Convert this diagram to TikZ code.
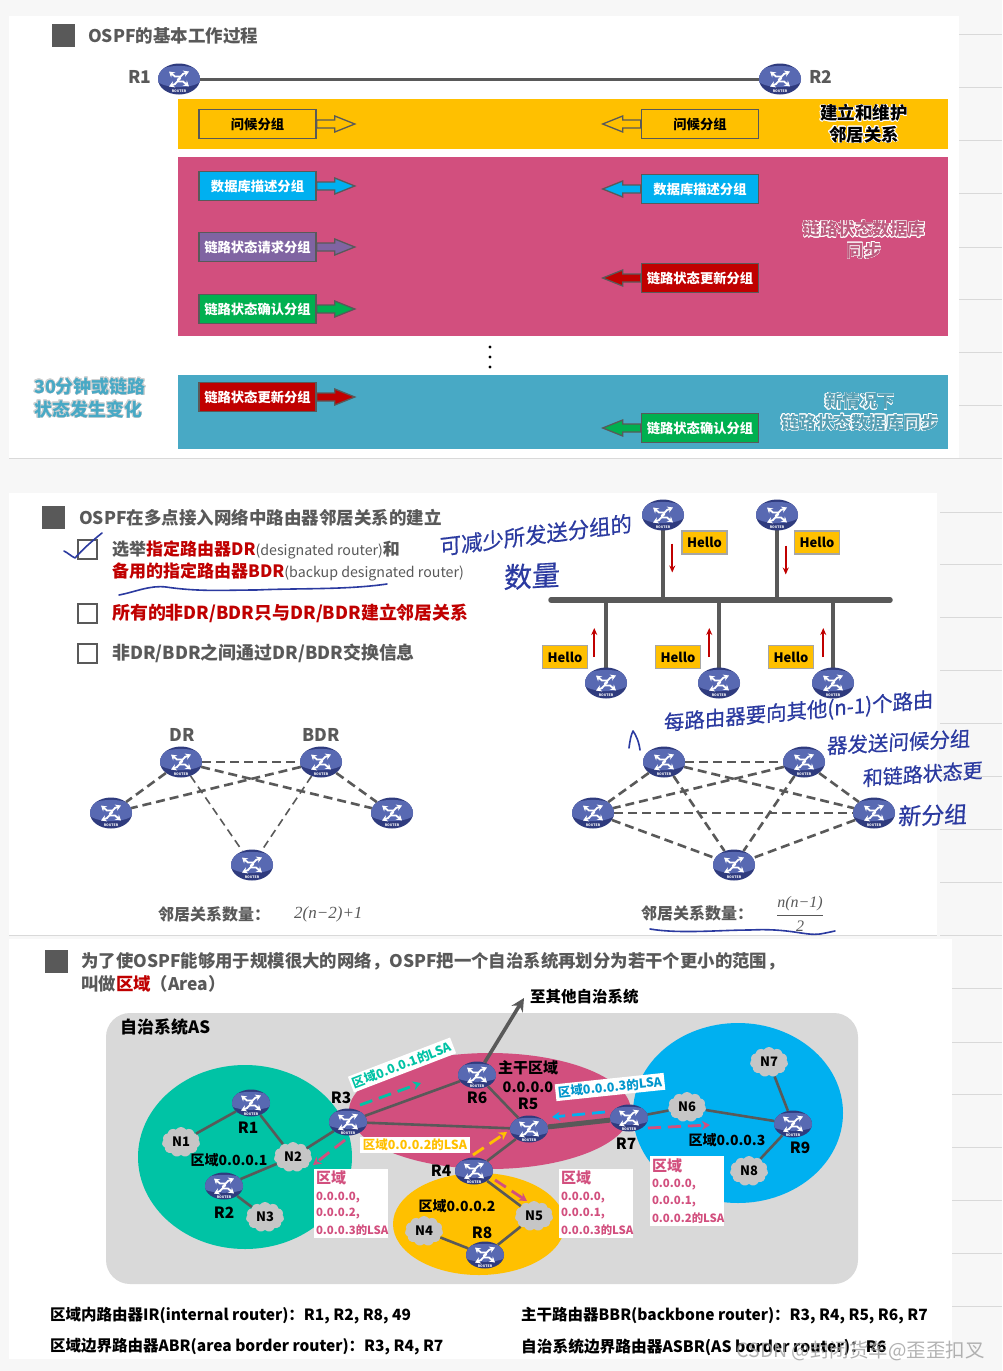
\documentclass[tikz,border=0pt]{standalone}
\usepackage{fontspec}
\setmainfont{Noto Sans CJK SC}
\newfontfamily\hwf[FakeBold=0.6,FakeSlant=0.1]{Noto Sans CJK SC}
\newfontfamily\serf{Liberation Serif}
\usepackage[copies]{contour}
\contournumber{16}
\usetikzlibrary{shapes.geometric,shapes.symbols,arrows.meta}
\definecolor{dg}{HTML}{595959}
\definecolor{cred}{HTML}{C00000}
\definecolor{pinkb}{HTML}{D24F7E}
\definecolor{yel}{HTML}{FFC000}
\definecolor{blueb}{HTML}{48A9C5}
\definecolor{sky}{HTML}{00B0F0}
\definecolor{purp}{HTML}{8064A2}
\definecolor{grn}{HTML}{00B050}
\definecolor{teal2}{HTML}{00C3A5}
\definecolor{hw}{HTML}{2B3AA0}
\definecolor{rdark}{HTML}{2F3B7E}
\definecolor{rlight}{HTML}{5869B2}
\newcommand\fz[1]{\fontsize{#1}{#1}\selectfont}
\newcommand\routerart[3]{%
  \fill[rlight] ([yshift=#3]path picture bounding box.center) ellipse [x radius=25,y radius=12.5*#2];
  \begin{scope}[shift={([yshift=#3]path picture bounding box.center)},xscale=#1,yscale=#2]
    \draw[rarr] (1,-2.5) -- (-4,-2.5) -- (-10,-7.5);
    \draw[rarr] (-1.5,1) -- (4,-5) -- (10,-7.5);
    \draw[rarr] (1.5,-1) -- (-4,5) -- (-10,7.5);
    \draw[rarr] (-1,2.5) -- (4,2.5) -- (10,7.5);
  \end{scope}}
\tikzset{
  rarr/.style={white,line width=1.8,line join=miter,-{Stealth[length=5.5,width=6.5]}},
  routerA/.style={ellipse,inner sep=0,minimum width=42,minimum height=31,fill=rdark,
    path picture={\routerart{1.1}{0.85}{2.5}
      \node[rtag] (rt) at ([yshift=3]path picture bounding box.south) {ROUTER};}},
  routerB/.style={ellipse,inner sep=0,minimum width=38,minimum height=27,fill=rdark,
    path picture={\routerart{0.95}{0.72}{2.2}
      \node[rtag] (rt) at ([yshift=2.4]path picture bounding box.south) {ROUTER};}},
  rtag/.style={text=white,inner sep=0,font=\bfseries\fz{3.4}},
  wire/.style={dg,line width=2.6},
  dash1/.style={dg,line width=2.6,dash pattern=on 9pt off 5pt},
  dash2/.style={dg,line width=1.6,dash pattern=on 8pt off 5pt},
  netcloud/.style={cloud,cloud puffs=11,cloud puff arc=110,aspect=1.3,fill=gray!45!white,draw=none,inner sep=0,
    minimum width=38,minimum height=30,font=\bfseries\fz{13}},
  pkbox/.style={draw=dg,line width=1.6,minimum width=117,minimum height=29,inner sep=0,font=\bfseries\fz{13.3}},
  pkarrow/.style={draw=dg,line width=1.3,line join=miter},
  lbl/.style={inner sep=0,font=\bfseries\fz{17}},
  glbl/.style={inner sep=0,font=\bfseries\fz{17.5},text=dg},
  rl/.style={inner sep=0,font=\bfseries\fz{15.5},text=black},
  hello/.style={draw=gray!70!white,line width=1.5,fill=yel,minimum width=45,minimum height=23,inner sep=0,font=\bfseries\fz{13}},
  redarr/.style={cred,line width=1.7,-{Stealth[length=7,width=6]}},
  chk/.style={draw=dg,line width=2,fill=white,minimum width=19,minimum height=19,inner sep=0},
  hand/.style={inner sep=0,text=hw,font=\hwf\fz{#1}},
  handline/.style={hw,line width=1.6,line cap=round,line join=round},
  lsaarr/.style={line width=2.8,dash pattern=on 13pt off 7pt,-{Stealth[length=8,width=9]}},
  lsabox/.style={fill=white,inner sep=2.5,font=\bfseries\fz{12.5}},
  listbox/.style={fill=white,inner sep=2,text=pinkb,align=left,font=\bfseries\fz{11.4},text width=70},
}
\newcommand\pkt[8]{%
  \node[pkbox,fill=#4,text=#5] (#1) at (#2,#3) {#6};
  \draw[pkarrow,fill=#4] (#1.#7) ++(0,-4) -- ++({#8*18},0) -- ++(0,-4) -- ++({#8*20},8) -- ++({-#8*20},8) -- ++(0,-4) -- ++({-#8*18},0) -- cycle;}
\begin{document}
\begin{tikzpicture}[x=1pt,y=-1pt]
\useasboundingbox (0,0) rectangle (1002,1371);
\fill[gray!6!white] (0,0) rectangle (1002,1371);
% ruled margin
\foreach \y in {34,87,140,193,247,299,352,405,458,512,564,617,670,723,776,829,882,935,988,1042,1094,1147,1200,1253,1306}
  \draw[gray!30!white,line width=1] (940,\y) -- (1002,\y);
% panels
\fill[white] (9,16) rectangle (959,458);
\fill[white] (9,493) rectangle (937,935);
\fill[white] (9,939) rectangle (952,1359);
\draw[gray!30!white,line width=1] (9,458) -- (959,458);
\draw[gray!30!white,line width=1] (9,935) -- (937,935);

%% ---------- panel 1
\fill[dg] (52,24) rectangle (75,47);
\node[glbl,anchor=west] (t1) at (88,36) {OSPF的基本工作过程};
\node[routerA] (r1) at (179,79) {};
\node[routerA] (r2) at (780,79) {};
\node[glbl] (r1l) at (140,77) {R1};
\node[glbl] (r2l) at (821,77) {R2};
\draw[dg,line width=3] (r1) -- (r2);
\fill[yel] (178,99) rectangle (948,149);
\fill[pinkb] (178,157) rectangle (948,336);
\fill[blueb] (178,375) rectangle (948,449);
\pkt{a1}{257.5}{124}{yel}{black}{问候分组}{east}{1}
\pkt{a2}{700}{124}{yel}{black}{问候分组}{west}{-1}
\pkt{b1}{257.5}{186}{sky}{white}{数据库描述分组}{east}{1}
\pkt{b2}{700}{189}{sky}{white}{数据库描述分组}{west}{-1}
\pkt{c1}{257.5}{247}{purp}{white}{链路状态请求分组}{east}{1}
\pkt{c2}{700}{278}{cred}{white}{链路状态更新分组}{west}{-1}
\pkt{d1}{257.5}{309}{grn}{white}{链路状态确认分组}{east}{1}
\pkt{e1}{257.5}{397}{cred}{white}{链路状态更新分组}{east}{1}
\pkt{e2}{700}{428}{grn}{white}{链路状态确认分组}{west}{-1}
\contourlength{0.6pt}
\node[inner sep=0,align=center,font=\bfseries\fz{17.5},text=black] (s1) at (864,124) {\contour{white}{建立和维护}\\[4pt]\contour{white}{邻居关系}};
\contourlength{0.45pt}
\node[inner sep=0,align=center,font=\bfseries\fz{17.5},text=pinkb!75!gray] (s2) at (864,240) {\contour{white}{链路状态数据库}\\[4pt]\contour{white}{同步}};
\node[inner sep=0,align=center,font=\bfseries\fz{17.5},text=blueb!75!gray] (s3) at (860,412) {\contour{white}{新情况下}\\[4pt]\contour{white}{链路状态数据库同步}};
\node[inner sep=0,align=left,font=\bfseries\fz{18},text=blueb] (s4) at (90,398) {\contour{gray!35!white}{30分钟或链路}\\[4pt]\contour{gray!35!white}{状态发生变化}};
\foreach \y/\n in {347/p,357/q,367/r}
  \node[circle,fill=black,inner sep=0,minimum size=3.4] (dot\n) at (490,\y) {};

%% ---------- panel 2
\fill[dg] (42,506) rectangle (65,529);
\node[glbl,anchor=west] (t2) at (79,518) {OSPF在多点接入网络中路由器邻居关系的建立};
\node[chk] (c1b) at (87,549) {};
\node[chk] (c2b) at (87,613) {};
\node[chk] (c3b) at (87,653) {};
\node[inner sep=0,anchor=west,font=\bfseries\fz{17},text=dg] (l1) at (112,550) {选举\textcolor{cred}{指定路由器DR}{\mdseries\fz{14.2}(designated router)}和};
\node[inner sep=0,anchor=west,font=\bfseries\fz{17},text=dg] (l2) at (112,572) {\textcolor{cred}{备用的指定路由器BDR}{\mdseries\fz{14.2}(backup designated router)}};
\node[inner sep=0,anchor=west,font=\bfseries\fz{17.9},text=cred] (l3) at (112,613) {所有的非DR/BDR只与DR/BDR建立邻居关系};
\node[inner sep=0,anchor=west,font=\bfseries\fz{17.9},text=dg] (l4) at (112,653) {非DR/BDR之间通过DR/BDR交换信息};
% bus
\coordinate (busL) at (551,600);
\coordinate (busR) at (890,600);
\draw[dg,line width=3.6] (663,515) -- (663,600);
\draw[dg,line width=3.6] (777,515) -- (777,600);
\draw[dg,line width=3.6] (606,683) -- (606,600);
\draw[dg,line width=3.6] (719,683) -- (719,600);
\draw[dg,line width=3.6] (833,683) -- (833,600);
\node[routerA] (u1) at (663,515) {};
\node[routerA] (u2) at (777,515) {};
\node[routerA] (d1x) at (606,683) {};
\node[routerA] (d2x) at (719,683) {};
\node[routerA] (d3x) at (833,683) {};
\draw[dg,line width=5.5,line cap=round] (busL) -- (busR);
\node[hello] (h1) at (704.5,542.5) {Hello};
\node[hello] (h2) at (817,542.5) {Hello};
\node[hello] (h3) at (565,657) {Hello};
\node[hello] (h4) at (678,657) {Hello};
\node[hello] (h5) at (791,657) {Hello};
\draw[redarr] (h1.west) ++(-9,1) -- ++(0,29);
\draw[redarr] (h2.west) ++(-8,3) -- ++(0,29);
\draw[redarr] (h3.east) ++(6,0) -- ++(0,-29);
\draw[redarr] (h4.east) ++(8,0) -- ++(0,-29);
\draw[redarr] (h5.east) ++(9,0) -- ++(0,-29);
% left graph
\node[routerA] (dr) at (181,762) {};
\node[routerA] (bdr) at (321,762) {};
\node[routerA] (gl) at (111,813) {};
\node[routerA] (gr) at (392,813) {};
\node[routerA] (gb) at (252,865) {};
\node[glbl] (drl) at (182,735) {DR};
\node[glbl] (bdrl) at (321,735) {BDR};
\draw[dash1] (dr) -- (bdr);
\draw[dash1] (dr) -- (gl);
\draw[dash1] (dr) -- (gr);
\draw[dash1] (bdr) -- (gl);
\draw[dash1] (bdr) -- (gr);
\draw[dash2] (dr) -- (gb);
\draw[dash2] (bdr) -- (gb);
\node[inner sep=0,anchor=west,font=\bfseries\fz{16},text=dg] (nb1) at (158,914) {邻居关系数量：};
\node[inner sep=0,anchor=west,text=dg,font=\serf\itshape\fz{17}] (f1) at (294,914) {2(n−2)+1};
% right graph
\node[routerA] (ga) at (664,762) {};
\node[routerA] (gc) at (804,762) {};
\node[routerA] (gd) at (593,813) {};
\node[routerA] (ge) at (874,813) {};
\node[routerA] (gf) at (734,865) {};
\foreach \a/\b in {ga/gc,ga/gd,ga/ge,ga/gf,gc/gd,gc/ge,gc/gf,gd/ge,gd/gf,ge/gf}
  \draw[dash1] (\a) -- (\b);
\node[inner sep=0,anchor=west,font=\bfseries\fz{16},text=dg] (nb2) at (641,913) {邻居关系数量：};
\node[inner sep=0,text=dg,font=\serf\itshape\fz{16}] (f2) at (800,914) {$\displaystyle\frac{\hbox{n(n−1)}}{\hbox{2}}$};
% handwriting
\draw[handline] (64,551) .. controls (68,553) and (71,556) .. (75,558) .. controls (82,550) and (92,541) .. (102,533);
\draw[handline] (119,595) .. controls (135,592) and (150,585) .. (166,587) .. controls (200,592) and (225,590) .. (256,590) .. controls (300,588) and (345,590) .. (387,584);
\draw[handline] (650,929) .. controls (680,934) and (720,930) .. (750,930) .. controls (790,928) and (805,936) .. (820,934) .. controls (826,933) and (830,932) .. (835,931);
\draw[handline] (629,748) .. controls (630,740) and (631,735) .. (633,731) .. controls (636,735) and (639,742) .. (640,750);
\node[hand=21.5,rotate=7] (hw1) at (535,535) {可减少所发送分组的};
\node[hand=28,rotate=3] (hw2) at (531,576) {数量};
\node[hand=20.5,rotate=5] (hw3) at (798,712) {每路由器要向其他(n-1)个路由};
\node[hand=20.5,rotate=3] (hw4) at (898,742) {器发送问候分组};
\node[hand=20,rotate=4] (hw5) at (922,774) {和链路状态更};
\node[hand=23,rotate=2] (hw6) at (932,815) {新分组};

%% ---------- panel 3
\fill[dg] (45,950) rectangle (68,973);
\node[inner sep=0,anchor=west,font=\bfseries\fz{17.4},text=dg] (t3) at (81,961) {为了使OSPF能够用于规模很大的网络，OSPF把一个自治系统再划分为若干个更小的范围，};
\node[inner sep=0,anchor=west,font=\bfseries\fz{17.4},text=dg] (t3b) at (81,984) {叫做\textcolor{cred}{区域}（Area）};
\fill[gray!30!white,rounded corners=24] (106,1013) rectangle (858,1284);
\node[lbl,anchor=west] (as) at (120,1027) {自治系统AS};
\node[inner sep=0,anchor=west,font=\bfseries\fz{15.5}] (oth) at (530,997) {至其他自治系统};
\fill[teal2] (245,1157) ellipse [x radius=107,y radius=92];
\fill[sky] (738,1113) ellipse [x radius=105,y radius=90];
\fill[pinkb] (490,1111) ellipse [x radius=141,y radius=58];
\fill[yel] (479,1224) ellipse [x radius=86,y radius=51];
\node[routerB] (R1) at (251,1103) {};
\node[routerB] (R2) at (224,1186) {};
\node[routerB] (R3) at (348,1122) {};
\node[routerB] (R6) at (477,1075) {};
\node[routerB] (R5) at (529,1129) {};
\node[routerB] (R4) at (474,1171) {};
\node[routerB] (R8) at (485,1255) {};
\node[routerB] (R7) at (629,1118) {};
\node[routerB] (R9) at (793,1124) {};
\node[netcloud] (N1) at (181,1142) {N1};
\node[netcloud] (N2) at (293,1157) {N2};
\node[netcloud] (N3) at (265,1217) {N3};
\node[netcloud] (N4) at (424,1231) {N4};
\node[netcloud] (N5) at (534,1216) {N5};
\node[netcloud] (N6) at (687,1107) {N6};
\node[netcloud] (N7) at (769,1062) {N7};
\node[netcloud] (N8) at (749,1171) {N8};
\foreach \a/\b in {R1/N1,R1/N2,N2/R3,N2/R2,R2/N3,R3/R6,R3/R5,R6/R5,R5/R4,R4/N5,N5/R8,R8/N4,R7/N6,N6/R9,R9/N7,R9/N8}
  \draw[wire] (\a) -- (\b);
\draw[dg,line width=5] (R5) -- (R7);
\coordinate (ext) at (524,998);
\draw[dg,line width=3.6,-{Stealth[length=13,width=13]}] (R6) -- (ext);
\node[rl] (lR1) at (248,1128) {R1};
\node[rl] (lR2) at (224,1213) {R2};
\node[rl] (lR3) at (341,1098) {R3};
\node[rl] (lR6) at (477,1098) {R6};
\node[rl] (lR5) at (528,1104) {R5};
\node[rl] (lR4) at (441,1171) {R4};
\node[rl] (lR8) at (482,1233) {R8};
\node[rl] (lR7) at (626,1144) {R7};
\node[rl] (lR9) at (800,1148) {R9};
\node[rl,font=\bfseries\fz{15}] (bb1) at (528,1068) {主干区域};
\node[rl,font=\bfseries\fz{14.5}] (bb2) at (528,1087) {0.0.0.0};
\node[rl,font=\bfseries\fz{14}] (a1l) at (229,1160) {区域0.0.0.1};
\node[rl,font=\bfseries\fz{14}] (a2l) at (457,1206) {区域0.0.0.2};
\node[rl,font=\bfseries\fz{14}] (a3l) at (727,1140) {区域0.0.0.3};
% LSA labels
\node[lsabox,text=teal2,rotate=21] (L1) at (402,1065) {区域0.0.0.1的LSA};
\node[lsabox,text=yel] (L2) at (415,1145) {区域0.0.0.2的LSA};
\node[lsabox,text=sky!85!black,rotate=6] (L3) at (610,1087) {区域0.0.0.3的LSA};
\coordinate (ta1) at (360,1105); \coordinate (ta2) at (421,1083);
\draw[lsaarr,teal2] (ta1) -- (ta2);
\coordinate (pa1) at (345,1140); \coordinate (pa2) at (313,1165);
\draw[lsaarr,pinkb] (pa1) -- (pa2);
\coordinate (ya1) at (473,1155); \coordinate (ya2) at (507,1132);
\draw[lsaarr,yel] (ya1) -- (ya2);
\coordinate (pb1) at (495,1180); \coordinate (pb2) at (527,1201);
\draw[lsaarr,pinkb] (pb1) -- (pb2);
\coordinate (ba1) at (605,1112); \coordinate (ba2) at (552,1117);
\draw[lsaarr,sky] (ba1) -- (ba2);
\coordinate (pc1) at (648,1128); \coordinate (pc2) at (710,1125);
\draw[lsaarr,pinkb] (pc1) -- (pc2);
\node[listbox] (B1) at (351,1203.5) {{\fz{15}区域}\\[5pt]0.0.0.0,\\[5pt]0.0.0.2,\\[5pt]0.0.0.3的LSA};
\node[listbox] (B2) at (596,1203.5) {{\fz{15}区域}\\[5pt]0.0.0.0,\\[5pt]0.0.0.1,\\[5pt]0.0.0.3的LSA};
\node[listbox] (B3) at (687,1191) {{\fz{15}区域}\\[5pt]0.0.0.0,\\[5pt]0.0.0.1,\\[5pt]0.0.0.2的LSA};
\node[inner sep=0,anchor=west,font=\bfseries\fz{15.5}] (x1) at (50,1316) {区域内路由器IR(internal router)：R1, R2, R8, 49};
\node[inner sep=0,anchor=west,font=\bfseries\fz{15.5}] (x2) at (521,1316) {主干路由器BBR(backbone router)：R3, R4, R5, R6, R7};
\node[inner sep=0,anchor=west,font=\bfseries\fz{15.5}] (x3) at (50,1347) {区域边界路由器ABR(area border router)：R3, R4, R7};
\node[inner sep=0,anchor=west,font=\bfseries\fz{15.7}] (x4) at (521,1347) {自治系统边界路由器ASBR(AS border router)：R6};
\node[inner sep=0,anchor=east,font=\fz{19.5},text=gray!75!white,text opacity=0.8] (wm) at (985,1351) {CSDN @封闭货车@歪歪扣叉};
\end{tikzpicture}
\end{document}
